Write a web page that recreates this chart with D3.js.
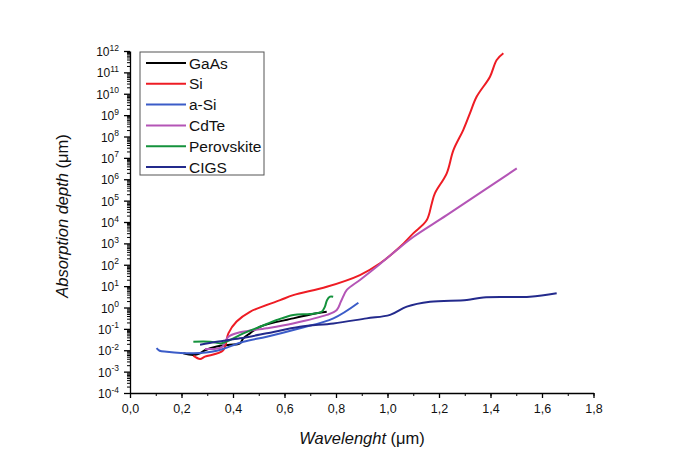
<!DOCTYPE html>
<html>
<head>
<meta charset="utf-8">
<script src="https://cdn.jsdelivr.net/npm/d3@7"></script>
<style>
  body { margin: 0; background: #fff; }
  text { font-family: "Liberation Sans", Arial, sans-serif; fill: #111; }
</style>
</head>
<body>
<div id="chart"></div>
<script>
"use strict";

// wavelength (um) / absorption depth (um)
const gaasWl = [0.207, 0.246, 0.272, 0.291, 0.337, 0.388, 0.427, 0.44, 0.466, 0.505, 0.634, 0.725, 0.764];
const gaasDepth = [7.2e-3, 6.0e-3, 7.2e-3, 0.010, 0.015, 0.018, 0.021, 0.036, 0.062, 0.126, 0.31, 0.54, 0.63];

const siWl = [0.246, 0.272, 0.291, 0.362, 0.382, 0.414, 0.466, 0.583, 0.634, 0.764, 0.893, 0.971, 1.049, 1.1, 1.152, 1.172, 1.184, 1.23, 1.256, 1.294, 1.32, 1.346, 1.398, 1.424, 1.45];
const siDepth = [5.6e-3, 3.9e-3, 5.0e-3, 1.0e-2, 6.2e-2, 0.22, 0.63, 2.2, 3.8, 9.3, 33, 117, 690, 2950, 1.2e4, 7.4e4, 2.2e5, 1.9e6, 2.3e7, 2.0e8, 1.2e9, 7.2e9, 6.3e10, 3.8e11, 7.8e11];

const aSiWl = [0.103, 0.115, 0.143, 0.246, 0.337, 0.44, 0.531, 0.66, 0.79, 0.887];
const aSiDepth = [0.0125, 0.0095, 8.5e-3, 7.2e-3, 9.5e-3, 0.025, 0.043, 0.107, 0.31, 1.66];

const cdteWl = [0.291, 0.357, 0.381, 0.427, 0.531, 0.633, 0.764, 0.803, 0.82, 0.842, 0.893, 0.958, 1.036, 1.1, 1.23, 1.502];
const cdteDepth = [0.0115, 0.014, 0.042, 0.069, 0.107, 0.18, 0.45, 0.76, 2.0, 6.6, 19.5, 81, 490, 2000, 2.1e4, 3.2e6];

const perovWl = [0.246, 0.311, 0.356, 0.388, 0.44, 0.505, 0.57, 0.634, 0.699, 0.744, 0.757, 0.765, 0.777, 0.789];
const perovDepth = [0.025, 0.025, 0.021, 0.030, 0.062, 0.126, 0.26, 0.45, 0.50, 0.63, 1.1, 2.2, 3.2, 3.2];

const cigsWl = [0.272, 0.337, 0.427, 0.531, 0.66, 0.79, 0.919, 1.01, 1.075, 1.165, 1.308, 1.372, 1.553, 1.657];
const cigsDepth = [0.018, 0.025, 0.036, 0.062, 0.126, 0.18, 0.31, 0.45, 1.1, 1.86, 2.24, 2.95, 3.2, 4.6];

const seriesNames = ["GaAs", "Si", "a-Si", "CdTe", "Perovskite", "CIGS"];
const seriesColors = ["#000000", "#ee1c24", "#3b5cc8", "#b455b6", "#14923c", "#232a8c"];

const xTicks = [0, 0.2, 0.4, 0.6, 0.8, 1.0, 1.2, 1.4, 1.6, 1.8];
const yExponents = d3.range(-4, 13);

let width = 673, height = 468;
let margin = { left: 130, right: 79.5, top: 51, bottom: 75 };

let svg = d3.select("#chart").append("svg")
  .attr("width", width)
  .attr("height", height);

let x = d3.scaleLinear()
  .domain([0, 1.8])
  .range([margin.left, width - margin.right]);

let y = d3.scaleLog()
  .domain([1e-4, 1e12])
  .range([height - margin.bottom, margin.top]);

let series = [
  { wl: gaasWl, depth: gaasDepth },
  { wl: siWl, depth: siDepth },
  { wl: aSiWl, depth: aSiDepth },
  { wl: cdteWl, depth: cdteDepth },
  { wl: perovWl, depth: perovDepth },
  { wl: cigsWl, depth: cigsDepth }
];

// x axis with minor ticks every 0.1
let xAxisY = y(1e-4);
let xMinor = d3.range(0, 1.81, 0.1);
svg.append("g")
  .attr("transform", "translate(0," + xAxisY + ")")
  .call(d3.axisBottom(x).tickValues(xMinor).tickSize(3).tickFormat(""))
  .call(g => g.select(".domain").remove());

let xAxis = svg.append("g")
  .attr("transform", "translate(0," + xAxisY + ")")
  .call(d3.axisBottom(x)
    .tickValues(xTicks)
    .tickSize(5)
    .tickSizeOuter(0)
    .tickFormat(d => d3.format(".1f")(d).replace(".", ",")));
xAxis.selectAll("text")
  .attr("dy", "0.95em")
  .style("font-size", "12.5px");
xAxis.selectAll("line, path").attr("stroke", "#000").attr("stroke-width", 1.3);

// y axis: log minor ticks + decades with superscript labels
let yMinor = [];
for (let e = -4; e < 12; e++) {
  for (let m = 2; m <= 9; m++) yMinor.push(m * Math.pow(10, e));
}
svg.append("g")
  .attr("transform", "translate(" + margin.left + ",0)")
  .call(d3.axisLeft(y).tickValues(yMinor).tickSize(3).tickFormat(""))
  .call(g => g.select(".domain").remove())
  .selectAll("line").attr("stroke", "#000");

let yAxis = svg.append("g")
  .attr("transform", "translate(" + margin.left + ",0)")
  .call(d3.axisLeft(y)
    .tickValues(yExponents.map(e => Math.pow(10, e)))
    .tickSize(6)
    .tickSizeOuter(0)
    .tickFormat(""));
yAxis.selectAll("line, path").attr("stroke", "#000").attr("stroke-width", 1.3);

yAxis.selectAll(".tick").each(function(d) {
  let exp = Math.round(Math.log10(d));
  let t = d3.select(this).append("text")
    .attr("x", -11)
    .attr("y", 4.5)
    .attr("text-anchor", "end")
    .style("font-size", "12px")
    .attr("fill", "#111");
  t.append("tspan").text("10");
  t.append("tspan")
    .attr("dy", -5.5)
    .style("font-size", "8.5px")
    .text(exp);
});

// curves
let line = d3.line()
  .x(d => x(d[0]))
  .y(d => y(d[1]))
  .curve(d3.curveCatmullRom.alpha(0.5));

svg.append("g")
  .selectAll("path")
  .data(series)
  .enter().append("path")
  .attr("fill", "none")
  .attr("stroke", (d, i) => seriesColors[i])
  .attr("stroke-width", 2)
  .attr("stroke-linejoin", "round")
  .attr("d", d => line(d.wl.map((w, i) => [w, d.depth[i]])));

// legend
let legend = svg.append("g").attr("transform", "translate(140,52)");
legend.append("rect")
  .attr("width", 124)
  .attr("height", 123)
  .attr("fill", "#fff")
  .attr("stroke", "#555")
  .attr("stroke-width", 1);

let rows = legend.selectAll(".row")
  .data(seriesNames)
  .enter().append("g")
  .attr("class", "row")
  .attr("transform", (d, i) => "translate(0," + (11 + i * 20.8) + ")");
rows.append("line")
  .attr("x1", 6).attr("x2", 46)
  .attr("stroke", (d, i) => seriesColors[i])
  .attr("stroke-width", 2);
rows.append("text")
  .attr("x", 49)
  .attr("dy", "0.36em")
  .style("font-size", "15.5px")
  .text(d => d);

// axis titles
let yTitle = svg.append("text")
  .attr("transform", "translate(68,216) rotate(-90)")
  .attr("text-anchor", "middle")
  .style("font-size", "16.5px");
yTitle.append("tspan").style("font-style", "italic").text("Absorption depth ");
yTitle.append("tspan").text("(\u03bcm)");

let xTitle = svg.append("text")
  .attr("x", 362)
  .attr("y", 444)
  .attr("text-anchor", "middle")
  .style("font-size", "16.5px");
xTitle.append("tspan").style("font-style", "italic").text("Wavelenght ");
xTitle.append("tspan").text("(\u03bcm)");
</script>
</body>
</html>
